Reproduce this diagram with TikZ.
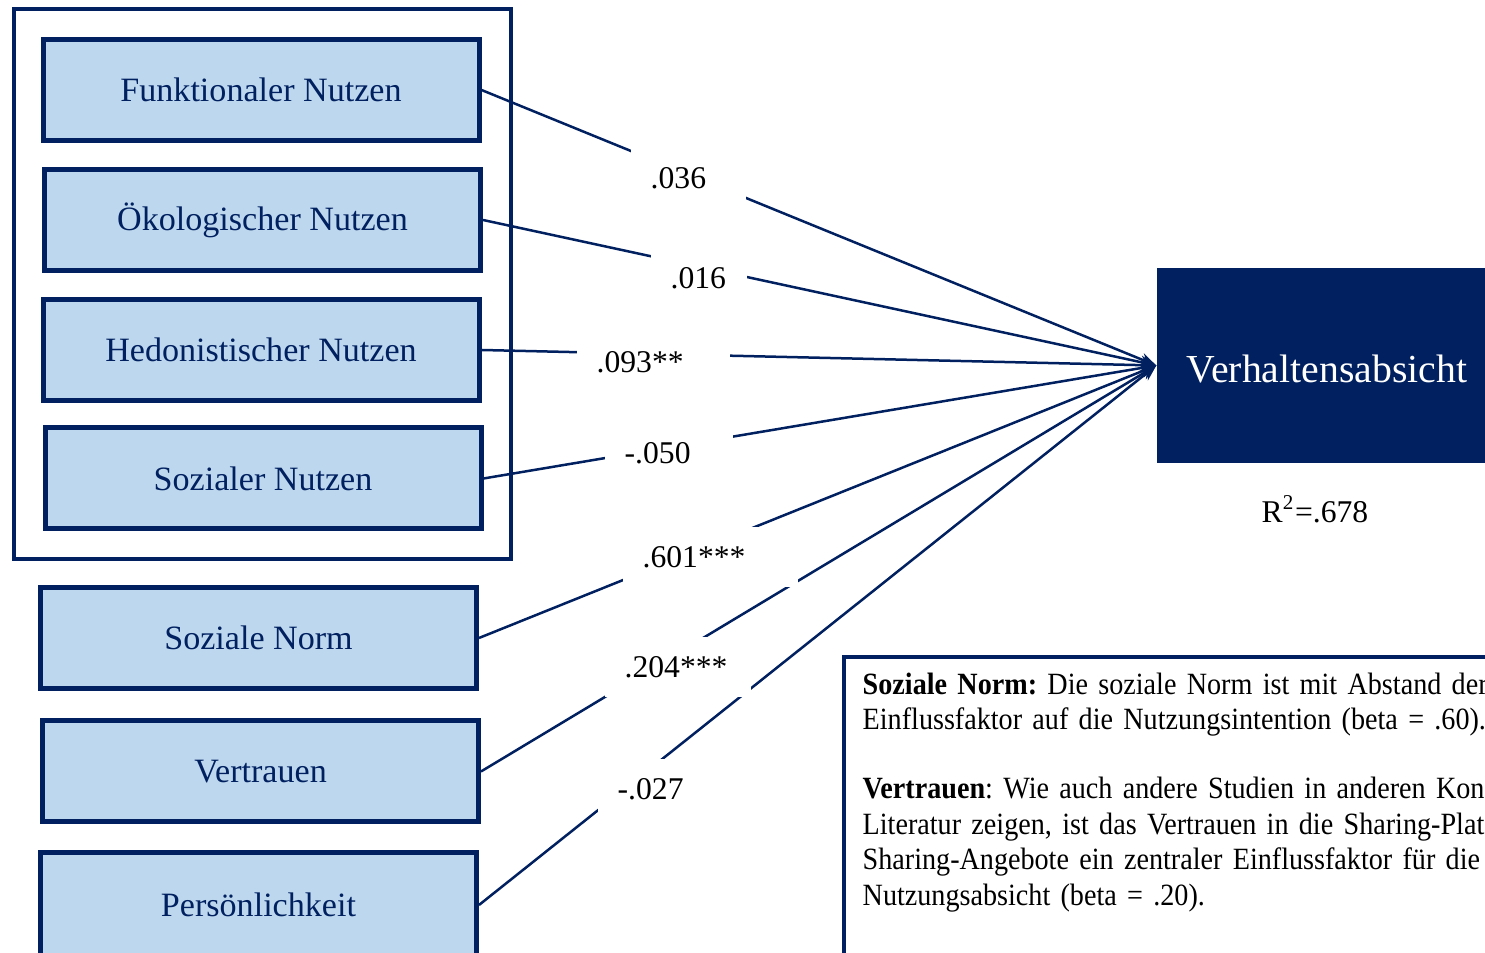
\documentclass[tikz,border=0pt]{standalone}
\usepackage{fontspec}
\setmainfont{Liberation Serif}
\newfontfamily\notefont[FakeStretch=0.91, WordSpace=0.9]{Liberation Serif}
\usetikzlibrary{arrows.meta, positioning, fit}
\definecolor{cnavy}{HTML}{002060}
\definecolor{clight}{HTML}{BDD7EE}
\tikzset{
  every picture/.style={x=0.1mm, y=-0.1mm},
  box/.style={draw=cnavy, fill=clight, line width=0.5mm, text=cnavy, minimum width=43.6mm, minimum height=10.1mm, font=\fontsize{9.7}{11}\selectfont},
  group/.style={draw=cnavy, line width=0.4mm, inner xsep=2.7mm, inner ysep=2.8mm},
  target/.style={fill=cnavy, text=white, minimum width=34mm, minimum height=19.5mm, font=\fontsize{11.3}{13}\selectfont},
  arrow/.style={-{Stealth[length=1.6mm, width=1.3mm]}, draw=cnavy, line width=0.25mm},
  coef/.style={fill=white, anchor=west, align=left, inner xsep=2mm, inner ysep=0pt, minimum height=6mm, font=\fontsize{9}{10}\selectfont},
  note/.style={anchor=north west, align=left, inner sep=0pt, text width=90mm, font=\notefont\fontsize{8.8}{10.1}\selectfont\frenchspacing},
}

\begin{document}
\begin{tikzpicture}
  \clip (0,0) rectangle (1485,953);
  % predictors
  \node[box] (fn)   at (261,90)    {Funktionaler Nutzen};
  \node[box] (oek)  at (262.5,220) {Ökologischer Nutzen};
  \node[box] (hed)  at (261,350)   {Hedonistischer Nutzen};
  \node[box] (soz)  at (263,478.5) {Sozialer Nutzen};
  \node[group, fit=(fn)(oek)(hed)(soz)] (grp) {};
  \node[box] (norm) at (258.5,638) {Soziale Norm};
  \node[box] (vert) at (260.5,771.5) {Vertrauen};
  \node[box, minimum height=10.5mm] (pers) at (258.5,905) {Persönlichkeit};

  \node[target, text height=3.4mm] (tgt) at (1327,365.5) {Verhaltensabsicht};
  \node[font=\fontsize{9}{10}\selectfont] (rsq) at (1315,509) {R\textsuperscript{2}=.678};

  \foreach \src in {fn, oek, hed, soz, norm, vert, pers}
    \draw[arrow] (\src.east) -- (tgt.west);

  % path coefficients
  \node[coef, text width=7.5mm]  (c1) at (630,178) {.036};
  \node[coef, text width=5.6mm]  (c2) at (650,278) {.016};
  \node[coef, text width=11.3mm] (c3) at (576,362) {.093**};
  \node[coef, text width=8.8mm]  (c4) at (604,453) {-.050};
  \node[coef, text width=13.5mm] (c5) at (622,557) {.601***};
  \node[coef, text width=10.6mm] (c6) at (604,667) {.204***};
  \node[coef, text width=8.3mm]  (c7) at (597,789) {-.027};

  % note
  \draw[cnavy, line width=0.4mm] (844,657) rectangle (1600,1100);
  \node[note] (txt) at (862,672) {\textbf{Soziale Norm:} Die soziale Norm ist mit Abstand der\\
    Einflussfaktor auf die Nutzungsintention (beta = .60).\\[9.5pt]
    \textbf{Vertrauen}: Wie auch andere Studien in anderen Kon\\
    Literatur zeigen, ist das Vertrauen in die Sharing-Plat\\
    Sharing-Angebote ein zentraler Einflussfaktor für die\\
    Nutzungsabsicht (beta = .20).};
\end{tikzpicture}
\end{document}
